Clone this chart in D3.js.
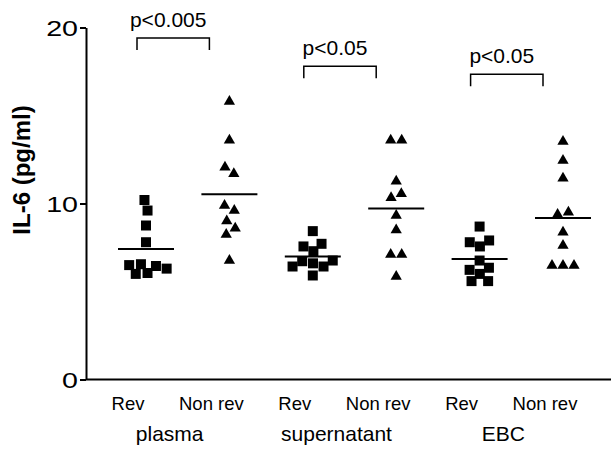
<!DOCTYPE html>
<html>
<head>
<meta charset="utf-8">
<script src="https://cdn.jsdelivr.net/npm/d3@7"></script>
<style>
  body { margin: 0; background: #fff; }
  text { font-family: "Liberation Sans", Arial, sans-serif; fill: #000; }
</style>
</head>
<body>
<script>
// values (pg/ml)
var groups = ["plasma", "supernatant", "EBC"];
var conditions = ["Rev", "Non rev"];
var plasmaRev = [10.2, 9.6, 8.75, 7.8, 6.55, 6.45, 6.5, 6.05, 6.0, 6.3];
var plasmaNonRev = [15.8, 13.6, 12.06, 11.69, 9.89, 9.6, 9.0, 8.6, 8.24, 6.76];
var supernatantRev = [8.43, 7.71, 7.56, 7.29, 6.72, 6.76, 6.6, 6.42, 6.42, 5.91];
var supernatantNonRev = [13.6, 13.6, 11.27, 10.55, 10.32, 9.32, 8.5, 7.1, 7.1, 5.85];
var ebcRev = [8.69, 7.9, 7.8, 7.56, 6.76, 6.35, 6.23, 6.0, 5.59, 5.59];
var ebcNonRev = [13.52, 12.44, 11.44, 9.5, 9.38, 8.37, 7.61, 6.48, 6.48, 6.48];
var pLabels = ["p<0.005", "p<0.05", "p<0.05"];
var bracketLevels = [19.4, 17.8, 17.35];
var yTicks = [0, 10, 20];

var series = [
    {group: "plasma", cond: "Rev", values: plasmaRev},
    {group: "plasma", cond: "Non rev", values: plasmaNonRev},
    {group: "supernatant", cond: "Rev", values: supernatantRev},
    {group: "supernatant", cond: "Non rev", values: supernatantNonRev},
    {group: "EBC", cond: "Rev", values: ebcRev},
    {group: "EBC", cond: "Non rev", values: ebcNonRev}
];

var width = 611, height = 455;

var svg = d3.select("body").append("svg")
    .attr("width", width)
    .attr("height", height);

var y = d3.scaleLinear().domain([0, 20]).range([379.5, 27.5]);
var x = d3.scalePoint()
    .domain(series.map(function (d) { return d.group + "|" + d.cond; }))
    .range([146, 563]);

function col(g, c) { return x(g + "|" + c); }

// y axis
var yAxis = svg.append("g")
    .attr("transform", "translate(86,0)")
    .call(d3.axisLeft(y).tickValues(yTicks).tickSize(6).tickSizeOuter(0));
yAxis.select(".domain").attr("stroke-width", 2);
yAxis.selectAll(".tick line").attr("stroke-width", 2);
yAxis.selectAll(".tick text")
    .attr("x", 0)
    .attr("dy", "0.36em")
    .attr("transform", "translate(-8,0) scale(1.3,1)")
    .style("font-size", "22px")
    .style("font-family", "'Liberation Sans', Arial, sans-serif");

// x axis baseline
svg.append("line")
    .attr("x1", 86).attr("x2", width)
    .attr("y1", y(0)).attr("y2", y(0))
    .attr("stroke", "#000")
    .attr("stroke-width", 2);

// y title
svg.append("text")
    .attr("transform", "translate(30," + 170 + ") rotate(-90)")
    .attr("text-anchor", "middle")
    .style("font-size", "24px")
    .style("font-weight", "bold")
    .text("IL-6 (pg/ml)");

// points, spread sideways with a small collide simulation
var square = d3.symbol().type(d3.symbolSquare).size(100);
var triangle = d3.symbol().type(d3.symbolTriangle).size(55);

series.forEach(function (s) {
    var cx = col(s.group, s.cond);
    var nodes = s.values.map(function (v, i) {
        return {v: v, x: cx + (i % 2 ? 1 : -1) * (i + 1) * 0.5, y: y(v), fy: y(v)};
    });
    var sim = d3.forceSimulation(nodes)
        .force("x", d3.forceX(cx).strength(0.08))
        .force("collide", d3.forceCollide(5.5))
        .stop();
    for (var k = 0; k < 300; k++) sim.tick();

    svg.append("g")
        .selectAll("path")
        .data(nodes)
        .enter()
        .append("path")
        .attr("d", s.cond === "Rev" ? square : triangle)
        .attr("transform", function (d) { return "translate(" + d.x + "," + d.fy + ")"; })
        .attr("fill", "#000");

    // mean line
    var m = d3.mean(s.values);
    svg.append("line")
        .attr("x1", cx - 28).attr("x2", cx + 28)
        .attr("y1", y(m)).attr("y2", y(m))
        .attr("stroke", "#000")
        .attr("stroke-width", 2);

    // condition label
    svg.append("text")
        .attr("x", cx - 18)
        .attr("y", 410)
        .attr("text-anchor", "middle")
        .style("font-size", "18.5px")
        .text(s.cond);
});

// group labels, brackets and p values
groups.forEach(function (g, i) {
    var xr = col(g, conditions[0]), xn = col(g, conditions[1]);
    svg.append("text")
        .attr("x", (xr + xn) / 2 - 18)
        .attr("y", 441)
        .attr("text-anchor", "middle")
        .style("font-size", "21px")
        .text(g);

    var by = y(bracketLevels[i]);
    var x1 = xr - 9, x2 = xn - 20;
    svg.append("path")
        .attr("d", "M" + x1 + "," + (by + 12) + "V" + by + "H" + x2 + "V" + (by + 12))
        .attr("fill", "none")
        .attr("stroke", "#000")
        .attr("stroke-width", 1.5);

    svg.append("text")
        .attr("x", (x1 + x2) / 2 - 5)
        .attr("y", by - 11)
        .attr("text-anchor", "middle")
        .style("font-size", "21px")
        .text(pLabels[i]);
});
</script>
</body>
</html>
